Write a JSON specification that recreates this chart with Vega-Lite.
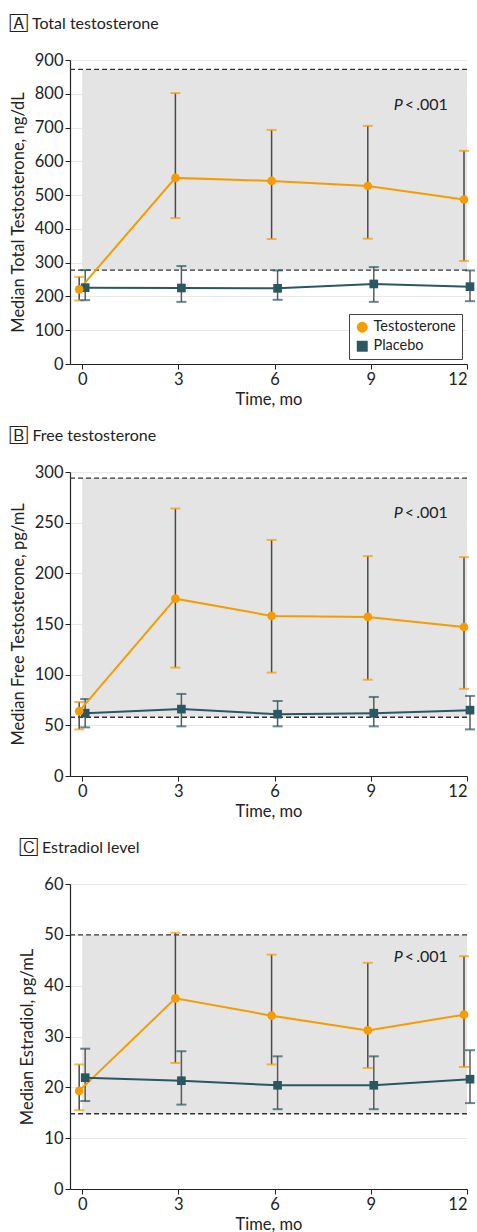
{
  "$schema": "https://vega.github.io/schema/vega-lite/v6.json",
  "padding": {"top": 16, "left": 10, "right": 4, "bottom": 4},
  "spacing": 20,
  "config": {
    "font": "Lato",
    "view": {"stroke": null},
    "axis": {"labelFontSize": 16.5, "titleFontSize": 16.5, "titleFontWeight": "normal", "labelColor": "#222", "titleColor": "#222", "domainColor": "#222", "tickColor": "#222", "gridColor": "#e8e8e8", "domainWidth": 1.2, "tickSize": 5, "labelOverlap": false},
    "title": {"fontSize": 16, "fontWeight": "normal", "anchor": "start", "frame": "bounds", "color": "#222", "offset": 20}
  },
  "resolve": {"scale": {"x": "independent", "y": "independent", "color": "independent", "shape": "independent"}, "legend": {"color": "independent", "shape": "independent"}},
  "datasets": {
    "A": [
      {"time": 0, "group": "Testosterone", "median": 221, "lo": 188, "hi": 258},
      {"time": 3, "group": "Testosterone", "median": 551, "lo": 432, "hi": 802},
      {"time": 6, "group": "Testosterone", "median": 542, "lo": 370, "hi": 693},
      {"time": 9, "group": "Testosterone", "median": 527, "lo": 371, "hi": 705},
      {"time": 12, "group": "Testosterone", "median": 487, "lo": 305, "hi": 631},
      {"time": 0, "group": "Placebo", "median": 226, "lo": 189, "hi": 278},
      {"time": 3, "group": "Placebo", "median": 225, "lo": 184, "hi": 290},
      {"time": 6, "group": "Placebo", "median": 224, "lo": 190, "hi": 277},
      {"time": 9, "group": "Placebo", "median": 237, "lo": 184, "hi": 287},
      {"time": 12, "group": "Placebo", "median": 229, "lo": 186, "hi": 277}
    ],
    "B": [
      {"time": 0, "group": "Testosterone", "median": 64, "lo": 46, "hi": 73},
      {"time": 3, "group": "Testosterone", "median": 175, "lo": 107, "hi": 264},
      {"time": 6, "group": "Testosterone", "median": 158, "lo": 102, "hi": 233},
      {"time": 9, "group": "Testosterone", "median": 157, "lo": 95, "hi": 217},
      {"time": 12, "group": "Testosterone", "median": 147, "lo": 86, "hi": 216},
      {"time": 0, "group": "Placebo", "median": 62, "lo": 48, "hi": 76},
      {"time": 3, "group": "Placebo", "median": 66, "lo": 49, "hi": 81},
      {"time": 6, "group": "Placebo", "median": 61, "lo": 49, "hi": 74},
      {"time": 9, "group": "Placebo", "median": 62, "lo": 49, "hi": 78},
      {"time": 12, "group": "Placebo", "median": 65, "lo": 46, "hi": 79}
    ],
    "C": [
      {"time": 0, "group": "Testosterone", "median": 19.3, "lo": 15.5, "hi": 24.5},
      {"time": 3, "group": "Testosterone", "median": 37.5, "lo": 24.8, "hi": 50.4},
      {"time": 6, "group": "Testosterone", "median": 34.1, "lo": 24.5, "hi": 46.1},
      {"time": 9, "group": "Testosterone", "median": 31.2, "lo": 23.8, "hi": 44.5},
      {"time": 12, "group": "Testosterone", "median": 34.3, "lo": 24.0, "hi": 45.8},
      {"time": 0, "group": "Placebo", "median": 21.9, "lo": 17.3, "hi": 27.6},
      {"time": 3, "group": "Placebo", "median": 21.3, "lo": 16.6, "hi": 27.1},
      {"time": 6, "group": "Placebo", "median": 20.4, "lo": 15.7, "hi": 26.1},
      {"time": 9, "group": "Placebo", "median": 20.4, "lo": 15.7, "hi": 26.1},
      {"time": 12, "group": "Placebo", "median": 21.6, "lo": 16.9, "hi": 27.3}
    ]
  },
  "vconcat": [
    {
      "title": {"text": "🄰 Total testosterone"},
      "width": 397, "height": 304,
      "data": {"name": "A"},
      "encoding": {
        "x": {"field": "time", "type": "quantitative", "scale": {"domain": [-0.38, 12], "nice": false, "zero": false}, "axis": {"values": [0, 3, 6, 9, 12], "grid": false, "title": "Time, mo", "titlePadding": 4}},
        "y": {"field": "median", "type": "quantitative", "scale": {"domain": [0, 900], "nice": false}, "axis": {"values": [0,100,200,300,400,500,600,700,800,900], "tickCount": 10, "labelOverlap": false, "title": "Median Total Testosterone, ng/dL", "titlePadding": 8}},
        "color": {"field": "group", "type": "nominal", "scale": {"domain": ["Testosterone", "Placebo"], "range": ["#F59C00", "#2A5762"]}, "legend": null}
      },
      "resolve": {"legend": {"color": "independent", "shape": "independent"}},
      "layer": [
        {"data": {"values": [{"start": 0, "end": 12, "lower": 278, "upper": 872}]}, "mark": {"type": "rect", "fill": "#e4e4e4"}, "encoding": {"color": null, "x": {"field": "start", "type": "quantitative"}, "x2": {"field": "end"}, "y": {"field": "lower", "type": "quantitative"}, "y2": {"field": "upper"}}},
        {"data": {"values": [{"limit": 278}, {"limit": 872}]}, "mark": {"type": "rule", "strokeDash": [5, 3], "color": "#333", "strokeWidth": 1.3}, "encoding": {"color": null, "x": null, "y": {"field": "limit", "type": "quantitative"}}},
        {"transform": [{"filter": "datum.group === 'Testosterone'"}], "mark": {"type": "rule", "color": "#4a4a4a", "strokeWidth": 1.5, "xOffset": -3}, "encoding": {"color": null, "y": {"field": "lo", "type": "quantitative"}, "y2": {"field": "hi"}}},
        {"transform": [{"filter": "datum.group === 'Placebo'"}], "mark": {"type": "rule", "color": "#5a5a5a", "strokeWidth": 1.5, "xOffset": 3}, "encoding": {"color": null, "y": {"field": "lo", "type": "quantitative"}, "y2": {"field": "hi"}}},
        {"transform": [{"filter": "datum.group === 'Testosterone'"}], "mark": {"type": "tick", "orient": "horizontal", "size": 10, "thickness": 2, "xOffset": -3}, "encoding": {"y": {"field": "lo", "type": "quantitative"}}},
        {"transform": [{"filter": "datum.group === 'Testosterone'"}], "mark": {"type": "tick", "orient": "horizontal", "size": 10, "thickness": 2, "xOffset": -3}, "encoding": {"y": {"field": "hi", "type": "quantitative"}}},
        {"transform": [{"filter": "datum.group === 'Placebo'"}], "mark": {"type": "tick", "orient": "horizontal", "size": 10, "thickness": 2, "xOffset": 3}, "encoding": {"y": {"field": "lo", "type": "quantitative"}}},
        {"transform": [{"filter": "datum.group === 'Placebo'"}], "mark": {"type": "tick", "orient": "horizontal", "size": 10, "thickness": 2, "xOffset": 3}, "encoding": {"y": {"field": "hi", "type": "quantitative"}}},
        {"transform": [{"filter": "datum.group === 'Testosterone'"}], "mark": {"type": "line", "strokeWidth": 2, "xOffset": -3}},
        {"transform": [{"filter": "datum.group === 'Placebo'"}], "mark": {"type": "line", "strokeWidth": 2, "xOffset": 3}},
        {"transform": [{"filter": "datum.group === 'Placebo'"}], "mark": {"type": "point", "filled": true, "opacity": 1, "size": 75, "xOffset": 3}, "encoding": {
          "shape": {"field": "group", "type": "nominal", "scale": {"domain": ["Testosterone", "Placebo"], "range": ["circle", "square"]}, "legend": null}}},
        {"transform": [{"filter": "datum.group === 'Testosterone'"}], "mark": {"type": "point", "filled": true, "opacity": 1, "size": 75, "xOffset": -3}, "encoding": {
          "color": {"field": "group", "type": "nominal", "legend": {"title": null, "orient": "bottom-right", "offset": 5, "labelFontSize": 14.5, "symbolSize": 120, "strokeColor": "#444", "fillColor": "white", "padding": 6, "rowPadding": 4, "labelColor": "#222"}},
          "shape": {"field": "group", "type": "nominal", "legend": {"title": null, "orient": "bottom-right", "offset": 5, "labelFontSize": 14.5, "symbolSize": 120, "strokeColor": "#444", "fillColor": "white", "padding": 6, "rowPadding": 4, "labelColor": "#222"}}}},
        {"data": {"values": [{"time": 10, "value": 767, "label": "P"}]}, "mark": {"type": "text", "fontStyle": "italic", "fontSize": 16, "align": "right", "baseline": "middle", "color": "#222"}, "encoding": {"color": null, "x": {"field": "time", "type": "quantitative"}, "y": {"field": "value", "type": "quantitative"}, "text": {"field": "label"}}},
        {"data": {"values": [{"time": 10, "value": 767, "label": "<\u2009.001"}]}, "mark": {"type": "text", "fontSize": 16, "align": "left", "baseline": "middle", "dx": 2, "color": "#222"}, "encoding": {"color": null, "x": {"field": "time", "type": "quantitative"}, "y": {"field": "value", "type": "quantitative"}, "text": {"field": "label"}}}
      ]
    },
    {
      "title": {"text": "🄱 Free testosterone"},
      "width": 397, "height": 304,
      "data": {"name": "B"},
      "encoding": {
        "x": {"field": "time", "type": "quantitative", "scale": {"domain": [-0.38, 12], "nice": false, "zero": false}, "axis": {"values": [0, 3, 6, 9, 12], "grid": false, "title": "Time, mo", "titlePadding": 4}},
        "y": {"field": "median", "type": "quantitative", "scale": {"domain": [0, 300], "nice": false}, "axis": {"values": [0,50,100,150,200,250,300], "labelOverlap": false, "title": "Median Free Testosterone, pg/mL", "titlePadding": 8}},
        "color": {"field": "group", "type": "nominal", "scale": {"domain": ["Testosterone", "Placebo"], "range": ["#F59C00", "#2A5762"]}, "legend": null}
      },
      "layer": [
        {"data": {"values": [{"start": 0, "end": 12, "lower": 58, "upper": 294}]}, "mark": {"type": "rect", "fill": "#e4e4e4"}, "encoding": {"color": null, "x": {"field": "start", "type": "quantitative"}, "x2": {"field": "end"}, "y": {"field": "lower", "type": "quantitative"}, "y2": {"field": "upper"}}},
        {"data": {"values": [{"limit": 58}, {"limit": 294}]}, "mark": {"type": "rule", "strokeDash": [5, 3], "color": "#333", "strokeWidth": 1.3}, "encoding": {"color": null, "x": null, "y": {"field": "limit", "type": "quantitative"}}},
        {"transform": [{"filter": "datum.group === 'Testosterone'"}], "mark": {"type": "rule", "color": "#4a4a4a", "strokeWidth": 1.5, "xOffset": -3}, "encoding": {"color": null, "y": {"field": "lo", "type": "quantitative"}, "y2": {"field": "hi"}}},
        {"transform": [{"filter": "datum.group === 'Placebo'"}], "mark": {"type": "rule", "color": "#5a5a5a", "strokeWidth": 1.5, "xOffset": 3}, "encoding": {"color": null, "y": {"field": "lo", "type": "quantitative"}, "y2": {"field": "hi"}}},
        {"transform": [{"filter": "datum.group === 'Testosterone'"}], "mark": {"type": "tick", "orient": "horizontal", "size": 10, "thickness": 2, "xOffset": -3}, "encoding": {"y": {"field": "lo", "type": "quantitative"}}},
        {"transform": [{"filter": "datum.group === 'Testosterone'"}], "mark": {"type": "tick", "orient": "horizontal", "size": 10, "thickness": 2, "xOffset": -3}, "encoding": {"y": {"field": "hi", "type": "quantitative"}}},
        {"transform": [{"filter": "datum.group === 'Placebo'"}], "mark": {"type": "tick", "orient": "horizontal", "size": 10, "thickness": 2, "xOffset": 3}, "encoding": {"y": {"field": "lo", "type": "quantitative"}}},
        {"transform": [{"filter": "datum.group === 'Placebo'"}], "mark": {"type": "tick", "orient": "horizontal", "size": 10, "thickness": 2, "xOffset": 3}, "encoding": {"y": {"field": "hi", "type": "quantitative"}}},
        {"transform": [{"filter": "datum.group === 'Testosterone'"}], "mark": {"type": "line", "strokeWidth": 2, "xOffset": -3}},
        {"transform": [{"filter": "datum.group === 'Placebo'"}], "mark": {"type": "line", "strokeWidth": 2, "xOffset": 3}},
        {"transform": [{"filter": "datum.group === 'Placebo'"}], "mark": {"type": "point", "filled": true, "opacity": 1, "size": 75, "xOffset": 3}, "encoding": {
          "shape": {"field": "group", "type": "nominal", "scale": {"domain": ["Testosterone", "Placebo"], "range": ["circle", "square"]}, "legend": null}}},
        {"transform": [{"filter": "datum.group === 'Testosterone'"}], "mark": {"type": "point", "filled": true, "opacity": 1, "size": 75, "xOffset": -3}, "encoding": {
          "shape": {"field": "group", "type": "nominal", "legend": null}}},
        {"data": {"values": [{"time": 10, "value": 260, "label": "P"}]}, "mark": {"type": "text", "fontStyle": "italic", "fontSize": 16, "align": "right", "baseline": "middle", "color": "#222"}, "encoding": {"color": null, "x": {"field": "time", "type": "quantitative"}, "y": {"field": "value", "type": "quantitative"}, "text": {"field": "label"}}},
        {"data": {"values": [{"time": 10, "value": 260, "label": "<\u2009.001"}]}, "mark": {"type": "text", "fontSize": 16, "align": "left", "baseline": "middle", "dx": 2, "color": "#222"}, "encoding": {"color": null, "x": {"field": "time", "type": "quantitative"}, "y": {"field": "value", "type": "quantitative"}, "text": {"field": "label"}}}
      ]
    },
    {
      "title": {"text": "🄲 Estradiol level"},
      "width": 397, "height": 305,
      "data": {"name": "C"},
      "encoding": {
        "x": {"field": "time", "type": "quantitative", "scale": {"domain": [-0.38, 12], "nice": false, "zero": false}, "axis": {"values": [0, 3, 6, 9, 12], "grid": false, "title": "Time, mo", "titlePadding": 4}},
        "y": {"field": "median", "type": "quantitative", "scale": {"domain": [0, 60], "nice": false}, "axis": {"values": [0,10,20,30,40,50,60], "labelOverlap": false, "title": "Median Estradiol, pg/mL", "titlePadding": 8}},
        "color": {"field": "group", "type": "nominal", "scale": {"domain": ["Testosterone", "Placebo"], "range": ["#F59C00", "#2A5762"]}, "legend": null}
      },
      "layer": [
        {"data": {"values": [{"start": 0, "end": 12, "lower": 14.8, "upper": 50}]}, "mark": {"type": "rect", "fill": "#e4e4e4"}, "encoding": {"color": null, "x": {"field": "start", "type": "quantitative"}, "x2": {"field": "end"}, "y": {"field": "lower", "type": "quantitative"}, "y2": {"field": "upper"}}},
        {"data": {"values": [{"limit": 14.8}, {"limit": 50}]}, "mark": {"type": "rule", "strokeDash": [5, 3], "color": "#333", "strokeWidth": 1.3}, "encoding": {"color": null, "x": null, "y": {"field": "limit", "type": "quantitative"}}},
        {"transform": [{"filter": "datum.group === 'Testosterone'"}], "mark": {"type": "rule", "color": "#4a4a4a", "strokeWidth": 1.5, "xOffset": -3}, "encoding": {"color": null, "y": {"field": "lo", "type": "quantitative"}, "y2": {"field": "hi"}}},
        {"transform": [{"filter": "datum.group === 'Placebo'"}], "mark": {"type": "rule", "color": "#5a5a5a", "strokeWidth": 1.5, "xOffset": 3}, "encoding": {"color": null, "y": {"field": "lo", "type": "quantitative"}, "y2": {"field": "hi"}}},
        {"transform": [{"filter": "datum.group === 'Testosterone'"}], "mark": {"type": "tick", "orient": "horizontal", "size": 10, "thickness": 2, "xOffset": -3}, "encoding": {"y": {"field": "lo", "type": "quantitative"}}},
        {"transform": [{"filter": "datum.group === 'Testosterone'"}], "mark": {"type": "tick", "orient": "horizontal", "size": 10, "thickness": 2, "xOffset": -3}, "encoding": {"y": {"field": "hi", "type": "quantitative"}}},
        {"transform": [{"filter": "datum.group === 'Placebo'"}], "mark": {"type": "tick", "orient": "horizontal", "size": 10, "thickness": 2, "xOffset": 3}, "encoding": {"y": {"field": "lo", "type": "quantitative"}}},
        {"transform": [{"filter": "datum.group === 'Placebo'"}], "mark": {"type": "tick", "orient": "horizontal", "size": 10, "thickness": 2, "xOffset": 3}, "encoding": {"y": {"field": "hi", "type": "quantitative"}}},
        {"transform": [{"filter": "datum.group === 'Testosterone'"}], "mark": {"type": "line", "strokeWidth": 2, "xOffset": -3}},
        {"transform": [{"filter": "datum.group === 'Placebo'"}], "mark": {"type": "line", "strokeWidth": 2, "xOffset": 3}},
        {"transform": [{"filter": "datum.group === 'Placebo'"}], "mark": {"type": "point", "filled": true, "opacity": 1, "size": 75, "xOffset": 3}, "encoding": {
          "shape": {"field": "group", "type": "nominal", "scale": {"domain": ["Testosterone", "Placebo"], "range": ["circle", "square"]}, "legend": null}}},
        {"transform": [{"filter": "datum.group === 'Testosterone'"}], "mark": {"type": "point", "filled": true, "opacity": 1, "size": 75, "xOffset": -3}, "encoding": {
          "shape": {"field": "group", "type": "nominal", "legend": null}}},
        {"data": {"values": [{"time": 10, "value": 45.6, "label": "P"}]}, "mark": {"type": "text", "fontStyle": "italic", "fontSize": 16, "align": "right", "baseline": "middle", "color": "#222"}, "encoding": {"color": null, "x": {"field": "time", "type": "quantitative"}, "y": {"field": "value", "type": "quantitative"}, "text": {"field": "label"}}},
        {"data": {"values": [{"time": 10, "value": 45.6, "label": "<\u2009.001"}]}, "mark": {"type": "text", "fontSize": 16, "align": "left", "baseline": "middle", "dx": 2, "color": "#222"}, "encoding": {"color": null, "x": {"field": "time", "type": "quantitative"}, "y": {"field": "value", "type": "quantitative"}, "text": {"field": "label"}}}
      ]
    }
  ]
}
